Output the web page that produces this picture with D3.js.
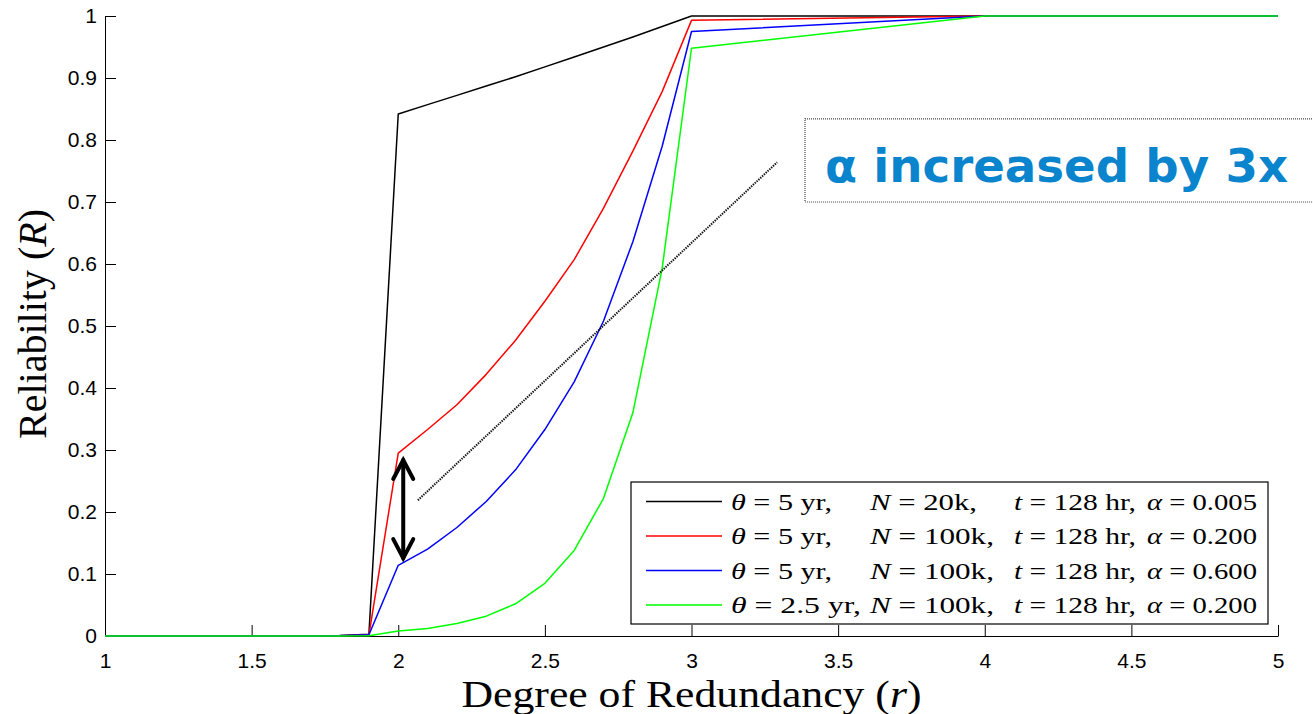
<!DOCTYPE html>
<html>
<head>
<meta charset="utf-8">
<script src="https://cdn.jsdelivr.net/npm/d3@7"></script>
<style>
  html, body { margin: 0; padding: 0; background: #fff; }
  svg { display: block; }
</style>
</head>
<body>
<svg id="chart" width="1313" height="714"></svg>
<script>
// ---------------- data ----------------
const xValues = [1.0, 1.1, 1.2, 1.3, 1.4, 1.5, 1.6, 1.7, 1.8, 1.9, 2.0, 2.1, 2.2, 2.3, 2.4, 2.5, 2.6, 2.7, 2.8, 2.9, 3.0, 4.0, 5.0];
const blackValues = [0, 0, 0, 0, 0.0005, 0.0005, 0.0005, 0.0005, 0.001, 0.003, 0.842, 0.857, 0.872, 0.887, 0.902, 0.918, 0.934, 0.950, 0.966, 0.983, 1.0, 1.0, 1.0];
const redValues   = [0, 0, 0, 0, 0, 0, 0, 0, 0.0005, 0.002, 0.295, 0.333, 0.373, 0.422, 0.477, 0.540, 0.607, 0.690, 0.782, 0.878, 0.993, 1.0, 1.0];
const blueValues  = [0, 0, 0, 0, 0, 0, 0, 0, 0.0005, 0.002, 0.114, 0.140, 0.175, 0.217, 0.268, 0.333, 0.410, 0.508, 0.636, 0.790, 0.975, 1.0, 1.0];
const greenValues = [0, 0, 0, 0, 0, 0, 0, 0, 0, 0.0005, 0.008, 0.012, 0.020, 0.032, 0.052, 0.085, 0.138, 0.222, 0.360, 0.593, 0.948, 1.0, 1.0];

const seriesNames  = ["black", "red", "blue", "green"];
const seriesColors = ["#000000", "#ff0000", "#0000ff", "#00ff00"];
const seriesData   = [blackValues, redValues, blueValues, greenValues];

const legendTheta = ["5 yr,", "5 yr,", "5 yr,", "2.5 yr,"];
const legendN     = ["20k,", "100k,", "100k,", "100k,"];
const legendT     = ["128 hr,", "128 hr,", "128 hr,", "128 hr,"];
const legendAlpha = ["0.005", "0.200", "0.600", "0.200"];

const xTicks = [1, 1.5, 2, 2.5, 3, 3.5, 4, 4.5, 5];
const xTickLabels = ["1", "1.5", "2", "2.5", "3", "3.5", "4", "4.5", "5"];
const yTicks = [0, 0.1, 0.2, 0.3, 0.4, 0.5, 0.6, 0.7, 0.8, 0.9, 1];
const yTickLabels = ["0", "0.1", "0.2", "0.3", "0.4", "0.5", "0.6", "0.7", "0.8", "0.9", "1"];

// annotation geometry in data units
const dottedLine = [[2.067, 0.219], [3.292, 0.764]];
const arrowX = 2.017;
const arrowY = [0.2855, 0.124];
const calloutBox = { x0: 3.387, y0: 0.834, y1: 0.700 };
const calloutText = "α increased by 3x";

// ---------------- layout ----------------
const svg = d3.select("#chart");
const plotLeft = 105, plotRight = 1278, plotTop = 16, plotBottom = 636;

const x = d3.scaleLinear().domain([1, 5]).range([plotLeft, plotRight]);
const y = d3.scaleLinear().domain([0, 1]).range([plotBottom, plotTop]);

// axes
const tickFont = "'Liberation Sans', Arial, Helvetica, sans-serif";
const xAxis = d3.axisBottom(x).tickValues(xTicks)
  .tickFormat((d, i) => xTickLabels[i]).tickSizeInner(-11).tickSizeOuter(0).tickPadding(17);
const yAxis = d3.axisLeft(y).tickValues(yTicks)
  .tickFormat((d, i) => yTickLabels[i]).tickSizeInner(-11).tickSizeOuter(0).tickPadding(8);

const gx = svg.append("g").attr("transform", `translate(0,${plotBottom})`).call(xAxis);
const gy = svg.append("g").attr("transform", `translate(${plotLeft},0)`).call(yAxis);
[gx, gy].forEach(g => {
  g.select(".domain").attr("stroke", "#000").attr("stroke-width", 1);
  g.selectAll(".tick line").attr("stroke", "#000").attr("stroke-width", 1);
  g.selectAll(".tick text").attr("fill", "#000")
    .style("font-family", tickFont).style("font-size", "21px");
});

// series lines
const line = d3.line().x((d, i) => x(xValues[i])).y(d => y(d));
seriesData.forEach((vals, k) => {
  svg.append("path")
    .datum(vals)
    .attr("class", "series-" + seriesNames[k])
    .attr("fill", "none")
    .attr("stroke", seriesColors[k])
    .attr("stroke-width", 1.5)
    .attr("stroke-linejoin", "round")
    .attr("d", line);
});

// axis titles
const serif = "'Liberation Serif', 'Times New Roman', serif";
const xt = svg.append("text")
  .attr("x", (plotLeft + plotRight) / 2).attr("y", 707)
  .attr("text-anchor", "middle")
  .attr("textLength", 460).attr("lengthAdjust", "spacingAndGlyphs")
  .style("font-family", serif).style("font-size", "38px").attr("fill", "#000");
xt.append("tspan").text("Degree of Redundancy (");
xt.append("tspan").style("font-style", "italic").text("r");
xt.append("tspan").text(")");

const yt = svg.append("text")
  .attr("transform", `translate(46,${(plotTop + plotBottom) / 2 - 2}) rotate(-90)`)
  .attr("text-anchor", "middle")
  .style("font-family", serif).style("font-size", "40px").attr("fill", "#000");
yt.append("tspan").text("Reliability (");
yt.append("tspan").style("font-style", "italic").text("R");
yt.append("tspan").text(")");

// dotted annotation line
svg.append("line")
  .attr("x1", x(dottedLine[0][0])).attr("y1", y(dottedLine[0][1]))
  .attr("x2", x(dottedLine[1][0])).attr("y2", y(dottedLine[1][1]))
  .attr("stroke", "#111").attr("stroke-width", 2)
  .attr("stroke-dasharray", "1.4 1.1");

// double arrow
const ax = x(arrowX), ayTop = y(arrowY[0]), ayBot = y(arrowY[1]);
const ag = svg.append("g").attr("stroke", "#000").attr("stroke-width", 4)
  .attr("fill", "none").attr("stroke-linecap", "round").attr("stroke-linejoin", "miter");
ag.append("line").attr("x1", ax).attr("x2", ax).attr("y1", ayTop + 1).attr("y2", ayBot - 1);
ag.append("path").attr("d", `M${ax - 10},${ayTop + 20} L${ax},${ayTop + 1} L${ax + 10},${ayTop + 20}`);
ag.append("path").attr("d", `M${ax - 10},${ayBot - 20} L${ax},${ayBot - 1} L${ax + 10},${ayBot - 20}`);

// legend
const lg = svg.append("g");
lg.append("rect").attr("x", 631).attr("y", 482).attr("width", 637).attr("height", 142)
  .attr("fill", "#fff").attr("stroke", "#000").attr("stroke-width", 1.2);
const rowY = [501.5, 536, 570.5, 605];
const legFont = "'Liberation Serif', 'DejaVu Serif', serif";
const colX = [731, 870, 1014, 1147];
seriesData.forEach((vals, k) => {
  const ry = rowY[k];
  lg.append("line").attr("x1", 646).attr("x2", 722).attr("y1", ry).attr("y2", ry)
    .attr("stroke", seriesColors[k]).attr("stroke-width", 1.5);
  const mk = (xp, w) => lg.append("text").attr("x", xp).attr("y", ry + 8)
    .attr("textLength", w).attr("lengthAdjust", "spacingAndGlyphs")
    .style("font-family", legFont).style("font-size", "23px").attr("fill", "#000");
  let t = mk(colX[0], legendTheta[k].length > 5 ? 130 : 101);
  t.append("tspan").style("font-style", "italic").text("θ");
  t.append("tspan").text(" = " + legendTheta[k]);
  t = mk(colX[1], legendN[k].length > 4 ? 124 : 107);
  t.append("tspan").style("font-style", "italic").text("N");
  t.append("tspan").text(" = " + legendN[k]);
  t = mk(colX[2], 122);
  t.append("tspan").style("font-style", "italic").text("t");
  t.append("tspan").text(" = " + legendT[k]);
  t = mk(colX[3], 110);
  t.append("tspan").style("font-style", "italic").text("α");
  t.append("tspan").text(" = " + legendAlpha[k]);
});

// callout box
const bx0 = x(calloutBox.x0), by0 = y(calloutBox.y0), by1 = y(calloutBox.y1);
svg.append("rect").attr("x", bx0).attr("y", by0).attr("width", 1330 - bx0).attr("height", by1 - by0)
  .attr("fill", "none").attr("stroke", "#444").attr("stroke-width", 1.2)
  .attr("stroke-dasharray", "1 1");
svg.append("text").attr("x", bx0 + 20).attr("y", 182)
  .attr("textLength", 463).attr("lengthAdjust", "spacingAndGlyphs")
  .style("font-family", "'Comic Sans MS', 'DejaVu Sans', sans-serif")
  .style("font-weight", "bold").style("font-size", "47px")
  .attr("fill", "#0a84cc").text(calloutText);
</script>
</body>
</html>
